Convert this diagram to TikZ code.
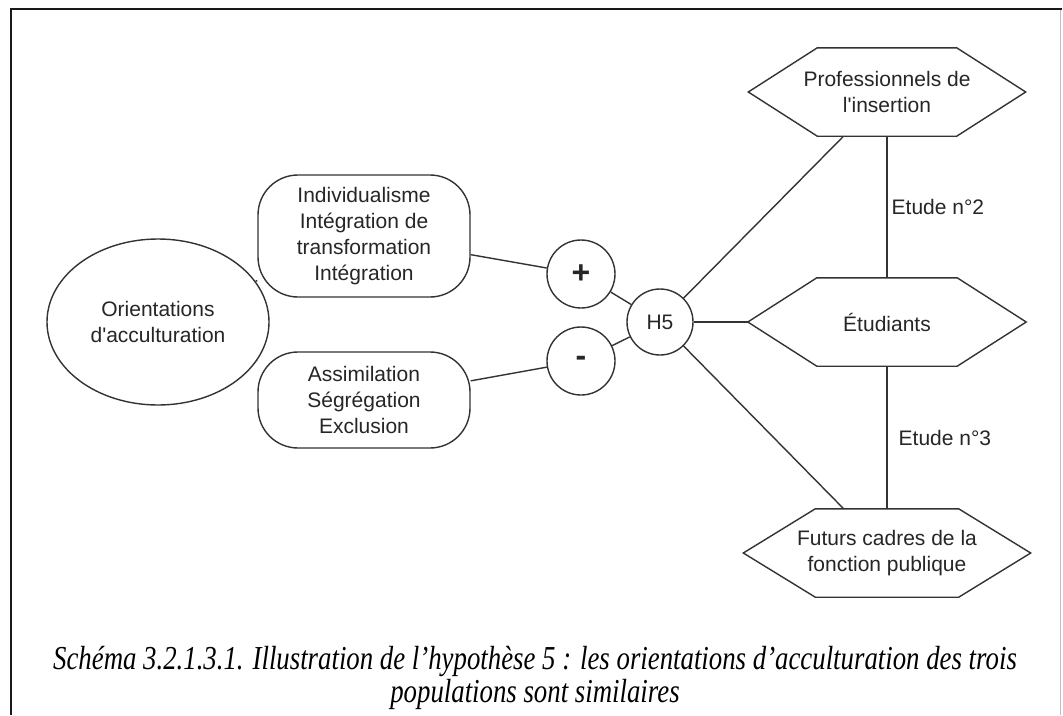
\documentclass[tikz,border=0pt]{standalone}
\usepackage{fontspec}
\newfontfamily\dfont{Liberation Sans}
\newfontfamily\capfont{Liberation Serif}[FakeStretch=0.8]
\usetikzlibrary{shapes.geometric}
\begin{document}
\begin{tikzpicture}[x=1pt,y=-1pt,
  every node/.style={font=\dfont\fontsize{21}{26}\selectfont, align=center, text=black!85, inner sep=0pt},
  shp/.style={draw=black!80, line width=1.4pt},
  conn/.style={draw=black!80, line width=1.4pt},
  rbox/.style={shp, rectangle, rounded corners=40pt, minimum width=212pt},
  ell/.style={shp, ellipse, minimum width=222pt, minimum height=166pt},
  circ/.style={shp, circle, minimum size=68pt},
  hexa/.style={rectangle, minimum height=88pt},
  sign/.style={font=\dfont\bfseries\fontsize{32}{32}\selectfont}
]
\useasboundingbox (0,0) rectangle (1063,715);
\fill[white] (0,0) rectangle (1063,715);
% frame
\draw[black!90, line width=2.5pt] (11,715) -- (11,9) -- (1062,9);
\draw[black!25, line width=1pt] (1060,10) -- (1060,715);

\node[ell] (ori) at (158,322) {Orientations\\d'acculturation};
\node[rbox, minimum height=122pt] (pos) at (364,236) {Individualisme\\Intégration de\\transformation\\Intégration};
\node[rbox, minimum height=96pt] (neg) at (364,400) {Assimilation\\Ségrégation\\Exclusion};
\node[circ, sign] (plus) at (581,274) {+};
\node[circ, sign] (minus) at (581,361) {-};
\node[circ, minimum size=66pt] (h5) at (660,322) {H5};
\node[hexa, minimum width=277pt] (prof) at (887,92) {Professionnels de\\l'insertion};
\node[hexa, minimum width=278pt] (etu) at (887,322) {Étudiants};
\node[hexa, minimum width=287pt] (fut) at (887,553) {Futurs cadres de la\\fonction publique};

\foreach \n/\d in {prof/69, etu/69, fut/72}
  \draw[shp] (\n.west) -- ([xshift=\d pt]\n.north west) -- ([xshift=-\d pt]\n.north east)
    -- (\n.east) -- ([xshift=-\d pt]\n.south east) -- ([xshift=\d pt]\n.south west) -- cycle;

\draw[conn] (ori) -- (pos);
\draw[conn] (ori) -- (neg);
\draw[conn] (pos) -- (plus);
\draw[conn] (neg) -- (minus);
\draw[conn] (plus) -- (h5);
\draw[conn] (minus) -- (h5);
\draw[conn] (h5) -- (prof);
\draw[conn] (h5) -- (etu);
\draw[conn] (h5) -- (fut);
\draw[conn] (prof) -- node[right, xshift=4pt] (l2) {Etude n°2} (etu);
\draw[conn] (etu) -- node[right, xshift=11pt] (l3) {Etude n°3} (fut);

\node[font=\capfont\itshape\fontsize{33.5}{33}\selectfont, text=black] (cap) at (535,678)
  {Schéma 3.2.1.3.1. Illustration de l’hypothèse 5 : les orientations d’acculturation des trois\\populations sont similaires};
\end{tikzpicture}
\end{document}
